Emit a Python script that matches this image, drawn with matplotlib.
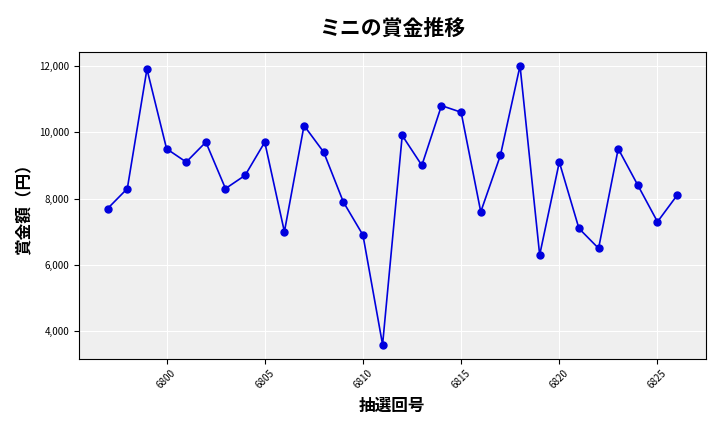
import matplotlib
matplotlib.use("Agg")
import matplotlib.pyplot as plt
from matplotlib.ticker import FuncFormatter

plt.rcParams['font.family'] = ['Noto Sans CJK JP', 'DejaVu Sans']

draws = list(range(6797, 6827))
prizes = [7700, 8300, 11900, 9500, 9100, 9700, 8300, 8700, 9700, 7000,
          10200, 9400, 7900, 6900, 3600, 9900, 9000, 10800, 10600, 7600,
          9300, 12000, 6300, 9100, 7100, 6500, 9500, 8400, 7300, 8100]

fig, ax = plt.subplots(figsize=(7.2, 4.32), dpi=100)
ax.set_facecolor('#efefef')
ax.grid(True, color='white', linewidth=0.8)
ax.set_axisbelow(True)
ax.plot(draws, prizes, color='#0000dd', marker='o', markersize=5, linewidth=1.2)
ax.set_title('ミニの賞金推移', fontsize=15, fontweight='bold', pad=12)
ax.set_xlabel('抽選回号', fontsize=12, fontweight='bold')
ax.set_ylabel('賞金額（円）', fontsize=12, fontweight='bold')
ax.set_xticks([6800, 6805, 6810, 6815, 6820, 6825])
ax.yaxis.set_major_formatter(FuncFormatter(lambda v, p: f'{int(v):,}'))
ax.set_yticks([4000, 6000, 8000, 10000, 12000])
ax.tick_params(axis='x', labelrotation=45, labelsize=7)
ax.tick_params(axis='y', labelsize=7)
fig.subplots_adjust(left=0.11, right=0.98, top=0.88, bottom=0.17)
fig.savefig('out.png', dpi=100)
